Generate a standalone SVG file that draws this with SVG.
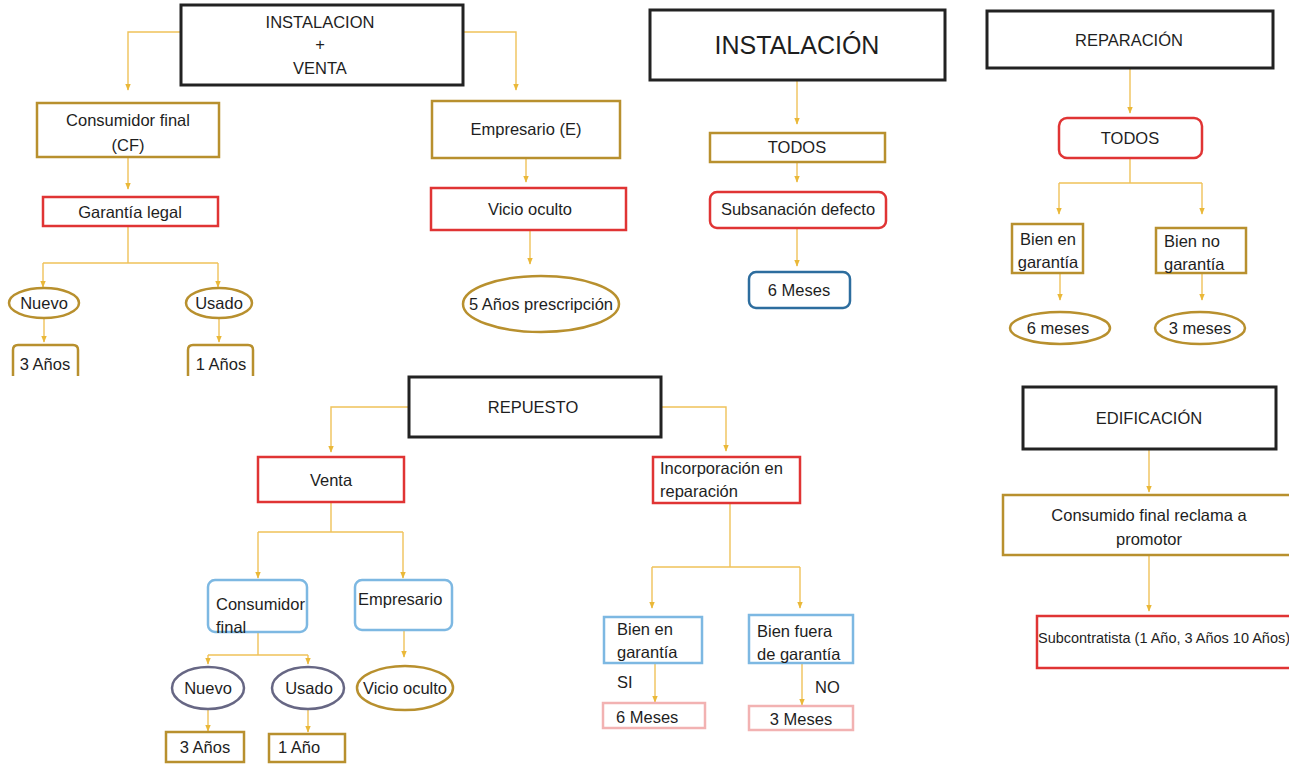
<svg xmlns="http://www.w3.org/2000/svg" width="1289" height="764" viewBox="0 0 1289 764">
<defs>
<marker id="ah" viewBox="0 0 10 10" refX="9" refY="5" markerWidth="7" markerHeight="7" orient="auto" markerUnits="userSpaceOnUse">
<path d="M0,1 L10,5 L0,9 Z" fill="#eab838"/>
</marker>
<style>
text{font-family:"Liberation Sans",Arial,sans-serif;font-size:16.5px;fill:#1e1e1e;}
.c{fill:none;stroke:#efc25a;stroke-width:1.4;}
.ca{fill:none;stroke:#efc25a;stroke-width:1.4;marker-end:url(#ah);}
.blk{fill:#fff;stroke:#222;stroke-width:3;}
.gold{fill:#fff;stroke:#b8902e;stroke-width:2.5;}
.red{fill:#fff;stroke:#e03434;stroke-width:2.5;}
.lblue{fill:#fff;stroke:#7db8e2;stroke-width:2.5;}
.dblue{fill:#fff;stroke:#2d6d9e;stroke-width:2.5;}
.pink{fill:#fff;stroke:#f2b2b2;stroke-width:2.5;}
.purp{fill:#fff;stroke:#676784;stroke-width:2.5;}
.m{text-anchor:middle;}
</style>
</defs>
<rect width="1289" height="764" fill="#fff"/>
<g id="connectors">
<path class="ca" d="M181,32 H128 V90"/>
<path class="ca" d="M463,32 H516 V90"/>
<path class="ca" d="M128,157 V189"/>
<path class="c" d="M128,226 V263 M43,263 H218"/>
<path class="ca" d="M43,263 V287"/>
<path class="ca" d="M218,263 V287"/>
<path class="ca" d="M44,318 V342"/>
<path class="ca" d="M219,318 V342"/>
<path class="ca" d="M526,158 V182"/>
<path class="ca" d="M530,230 V264"/>
<path class="ca" d="M797,80 V124"/>
<path class="ca" d="M797,162 V182"/>
<path class="ca" d="M797,228 V266"/>
<path class="ca" d="M1130,68 V113"/>
<path class="c" d="M1130,158 V183 M1059,183 H1202"/>
<path class="ca" d="M1059,183 V214"/>
<path class="ca" d="M1202,183 V214"/>
<path class="ca" d="M1060,273 V300"/>
<path class="ca" d="M1202,273 V300"/>
<path class="ca" d="M409,407 H331 V452"/>
<path class="ca" d="M661,407 H726 V451"/>
<path class="c" d="M331,502 V532 M258,532 H403"/>
<path class="ca" d="M258,532 V578"/>
<path class="ca" d="M403,532 V578"/>
<path class="c" d="M258,632 V655 M208,655 H308"/>
<path class="ca" d="M208,655 V664"/>
<path class="ca" d="M308,655 V664"/>
<path class="ca" d="M404,630 V657"/>
<path class="ca" d="M208,710 V731"/>
<path class="ca" d="M308,710 V732"/>
<path class="c" d="M730,503 V567 M652,567 H800"/>
<path class="ca" d="M652,567 V608"/>
<path class="ca" d="M800,567 V608"/>
<path class="ca" d="M655,663 V702"/>
<path class="ca" d="M802,663 V705"/>
<path class="ca" d="M1149,449 V492"/>
<path class="ca" d="M1149,555 V611"/>
</g>
<g id="instalacion-venta"><rect class="blk" x="181" y="5" width="282" height="80"/><text class="m" x="320" y="28">INSTALACION</text><text class="m" x="320" y="50">+</text><text class="m" x="320" y="74">VENTA</text></g>
<g id="cf"><rect class="gold" x="37" y="103" width="182" height="54"/><text class="m" x="128" y="126">Consumidor final</text><text class="m" x="128" y="151">(CF)</text></g>
<g id="garantia-legal"><rect class="red" x="43" y="197" width="175" height="29"/><text class="m" x="130" y="218">Garantía legal</text></g>
<g id="nuevo1"><ellipse class="gold" cx="44" cy="303" rx="35" ry="15"/><text class="m" x="44" y="309">Nuevo</text></g>
<g id="usado1"><ellipse class="gold" cx="219" cy="303" rx="33" ry="15"/><text class="m" x="219" y="309">Usado</text></g>
<g id="anos3a"><path class="gold" d="M13,376 V350 Q13,345 18,345 H73 Q78,345 78,350 V376"/><text class="m" x="45" y="370">3 Años</text></g>
<g id="anos1a"><path class="gold" d="M188,376 V350 Q188,345 193,345 H248 Q253,345 253,350 V376"/><text class="m" x="221" y="370">1 Años</text></g>
<g id="empresario-e"><rect class="gold" x="432" y="101" width="188" height="57"/><text class="m" x="526" y="135">Empresario (E)</text></g>
<g id="vicio1"><rect class="red" x="431" y="188" width="195" height="42"/><text class="m" x="530" y="215">Vicio oculto</text></g>
<g id="prescripcion"><ellipse class="gold" cx="541" cy="304" rx="78" ry="28"/><text class="m" x="541" y="310">5 Años prescripción</text></g>
<g id="instalacion"><rect class="blk" x="650" y="10" width="295" height="70"/><text class="m" x="797" y="54" style="font-size:25px">INSTALACIÓN</text></g>
<g id="todos1"><rect class="gold" x="710" y="133" width="175" height="29"/><text class="m" x="797" y="153">TODOS</text></g>
<g id="subsanacion"><rect class="red" x="710" y="192" width="176" height="36" rx="7"/><text class="m" x="798" y="215">Subsanación defecto</text></g>
<g id="seis-meses1"><rect class="dblue" x="749" y="272" width="101" height="36" rx="7"/><text class="m" x="799" y="296">6 Meses</text></g>
<g id="reparacion"><rect class="blk" x="987" y="11" width="286" height="57"/><text class="m" x="1129" y="46">REPARACIÓN</text></g>
<g id="todos2"><rect class="red" x="1059" y="118" width="143" height="40" rx="8"/><text class="m" x="1130" y="144">TODOS</text></g>
<g id="bien-garantia1"><rect class="gold" x="1012" y="224" width="71" height="49"/><text class="m" x="1048" y="245">Bien en</text><text class="m" x="1048" y="268">garantía</text></g>
<g id="bien-no-garantia"><rect class="gold" x="1156" y="228" width="90" height="45"/><text x="1164" y="247">Bien no</text><text x="1164" y="270">garantía</text></g>
<g id="seis-meses2"><ellipse class="gold" cx="1060" cy="328" rx="50" ry="16"/><text class="m" x="1058" y="334">6 meses</text></g>
<g id="tres-meses1"><ellipse class="gold" cx="1200" cy="328" rx="45" ry="16"/><text class="m" x="1200" y="334">3 meses</text></g>
<g id="repuesto"><rect class="blk" x="409" y="377" width="252" height="60"/><text class="m" x="533" y="413">REPUESTO</text></g>
<g id="venta"><rect class="red" x="258" y="457" width="146" height="45"/><text class="m" x="331" y="486">Venta</text></g>
<g id="consumidor-final2"><rect class="lblue" x="208" y="580" width="99" height="52" rx="7"/><text x="216" y="610">Consumidor</text><text x="216" y="633">final</text></g>
<g id="empresario2"><rect class="lblue" x="355" y="580" width="97" height="50" rx="7"/><text x="358" y="605">Empresario</text></g>
<g id="nuevo2"><ellipse class="purp" cx="208" cy="688" rx="36" ry="21"/><text class="m" x="208" y="694">Nuevo</text></g>
<g id="usado2"><ellipse class="purp" cx="308" cy="688" rx="36" ry="21"/><text class="m" x="309" y="694">Usado</text></g>
<g id="vicio2"><ellipse class="gold" cx="405" cy="688" rx="48" ry="22"/><text class="m" x="405" y="694">Vicio oculto</text></g>
<g id="anos3b"><rect class="gold" x="166" y="732" width="78" height="30"/><text class="m" x="205" y="753">3 Años</text></g>
<g id="ano1b"><rect class="gold" x="269" y="734" width="76" height="28"/><text x="278" y="753">1 Año</text></g>
<g id="incorporacion"><rect class="red" x="653" y="457" width="147" height="46"/><text x="660" y="474">Incorporación en</text><text x="660" y="497">reparación</text></g>
<g id="bien-garantia2"><rect class="lblue" x="604" y="617" width="98" height="46"/><text x="617" y="635">Bien en</text><text x="617" y="658">garantía</text></g>
<g id="bien-fuera"><rect class="lblue" x="749" y="615" width="104" height="48"/><text x="757" y="637">Bien fuera</text><text x="757" y="660">de garantía</text></g>
<text x="617" y="688">SI</text>
<text x="815" y="693">NO</text>
<g id="seis-meses3"><rect class="pink" x="603" y="703" width="102" height="25"/><text x="616" y="723">6 Meses</text></g>
<g id="tres-meses2"><rect class="pink" x="749" y="706" width="104" height="24"/><text class="m" x="801" y="725">3 Meses</text></g>
<g id="edificacion"><rect class="blk" x="1023" y="387" width="253" height="62"/><text class="m" x="1149" y="424">EDIFICACIÓN</text></g>
<g id="consumido"><rect class="gold" x="1003" y="495" width="290" height="60"/><text class="m" x="1149" y="521">Consumido final reclama a</text><text class="m" x="1149" y="545">promotor</text></g>
<g id="subcontratista"><rect class="red" x="1037" y="616" width="260" height="52"/><text x="1038" y="643" style="font-size:14px" textLength="252" lengthAdjust="spacingAndGlyphs">Subcontratista (1 Año, 3 Años 10 Años)</text></g>
</svg>
